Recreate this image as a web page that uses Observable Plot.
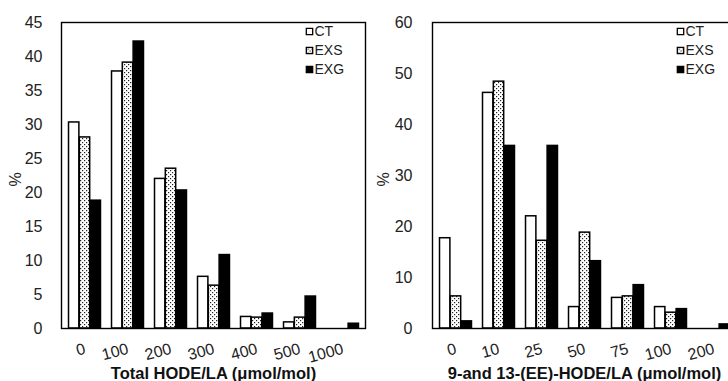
<!DOCTYPE html>
<html>
<head>
<meta charset="utf-8">
<script src="https://cdn.jsdelivr.net/npm/d3@7"></script>
<script src="https://cdn.jsdelivr.net/npm/@observablehq/plot@0.6"></script>
<style>
  html, body { margin: 0; padding: 0; background: #fff; overflow: hidden; width: 728px; height: 381px; }
  #wrap { position: relative; width: 800px; height: 381px; }
  #wrap svg.plotsvg { position: absolute; top: 0; background: transparent !important; max-width: none !important; }
</style>
</head>
<body>
<svg width="0" height="0" style="position:absolute">
  <defs>
    <pattern id="dots" width="4" height="4" patternUnits="userSpaceOnUse">
      <rect width="4" height="4" fill="#fff"></rect>
      <rect x="0" y="0" width="1.2" height="1.2" fill="#222"></rect>
      <rect x="2" y="2" width="1.2" height="1.2" fill="#222"></rect>
    </pattern>
  </defs>
</svg>
<div id="wrap"></div>
<script>
// ---- data ----
const series = ["CT", "EXS", "EXG"];

const groupsA = ["0", "100", "200", "300", "400", "500", "1000"];
const ctA  = [30.3, 37.8, 22.0, 7.6, 1.7, 0.9, 0];
const exsA = [28.1, 39.1, 23.5, 6.3, 1.6, 1.6, 0];
const exgA = [18.8, 42.2, 20.3, 10.8, 2.2, 4.7, 0.7];
const yTicksA = [0, 5, 10, 15, 20, 25, 30, 35, 40, 45];
const titleA = "Total HODE/LA (μmol/mol)";

const groupsB = ["0", "10", "25", "50", "75", "100", "200"];
const ctB  = [17.7, 46.2, 22.0, 4.2, 6.0, 4.2, 0];
const exsB = [6.3, 48.4, 17.2, 18.8, 6.3, 3.1, 0];
const exgB = [1.4, 35.8, 35.8, 13.2, 8.5, 3.8, 0.8];
const yTicksB = [0, 10, 20, 30, 40, 50, 60];
const titleB = "9-and 13-(EE)-HODE/LA (μmol/mol)";

const FONT = "Arial, 'Liberation Sans', sans-serif";

function makeChart({groups, values, yTicks, title, left, marginLeft, pctDx, tickDx}) {
  const plotW = 304, marginRight = 5;
  const width = marginLeft + plotW + marginRight;
  const rows = groups.map((g, i) => ({g, CT: values[0][i], EXS: values[1][i], EXG: values[2][i]}));
  const bw = plotW / groups.length;
  const barW = 10.8;
  const outer = (bw - 3 * barW) / 2;
  const fills = {CT: "#fff", EXS: "url(#dots)", EXG: "#000"};
  const bars = series.map((s, k) => Plot.barY(rows, {
    x: "g", y: s,
    fill: fills[s], stroke: "#000", strokeWidth: 1.5,
    insetLeft: outer + k * barW,
    insetRight: bw - outer - (k + 1) * barW
  }));
  const legend = series.flatMap((s, k) => [
    Plot.dot([s], {frameAnchor: "top-right", dx: -56, dy: 9 + k * 19, symbol: "square", r: 3.6,
      fill: fills[s], stroke: "#000", strokeWidth: 1.3}),
    Plot.text([s], {frameAnchor: "top-right", dx: -51, dy: 9 + k * 19, text: d => d, textAnchor: "start",
      lineAnchor: "middle", fontSize: 14, fill: "#222"})
  ]);
  const chart = Plot.plot({
    width, height: 381,
    marginLeft, marginRight, marginTop: 22, marginBottom: 53,
    style: {fontFamily: FONT, background: "transparent"},
    x: {domain: groups, padding: 0, label: null, axis: null},
    y: {domain: [0, yTicks[yTicks.length - 1]], label: null, axis: null},
    marks: [
      ...bars,
      Plot.frame({stroke: "#000", strokeWidth: 1.4}),
      // y tick labels
      Plot.text(yTicks, {y: d => d, frameAnchor: "left", dx: tickDx, textAnchor: "end", lineAnchor: "middle",
        text: d => String(d), fontSize: 16, fill: "#222"}),
      // x tick labels (rotated)
      Plot.text(groups, {x: d => d, frameAnchor: "bottom", dy: 20, textAnchor: "end", lineAnchor: "middle",
        rotate: -15, text: d => d, fontSize: 16, fill: "#222"}),
      ...legend,
      Plot.text([title], {frameAnchor: "bottom", dy: 45, lineAnchor: "middle", text: d => d,
        fontWeight: "bold", fontSize: 16.5, fill: "#111"}),
      Plot.text(["%"], {frameAnchor: "left", dx: pctDx, dy: 11, lineAnchor: "middle", text: d => d,
        rotate: -90, fontSize: 16, fill: "#222"})
    ]
  });
  chart.classList.add("plotsvg");
  chart.style.left = left + "px";
  return chart;
}

const wrap = document.getElementById("wrap");
wrap.appendChild(makeChart({groups: groupsA, values: [ctA, exsA, exgA], yTicks: yTicksA, title: titleA,
  left: 0, marginLeft: 61, pctDx: -46, tickDx: -19}));
wrap.appendChild(makeChart({groups: groupsB, values: [ctB, exsB, exgB], yTicks: yTicksB, title: titleB,
  left: 364, marginLeft: 68, pctDx: -49, tickDx: -20}));
</script>
</body>
</html>
